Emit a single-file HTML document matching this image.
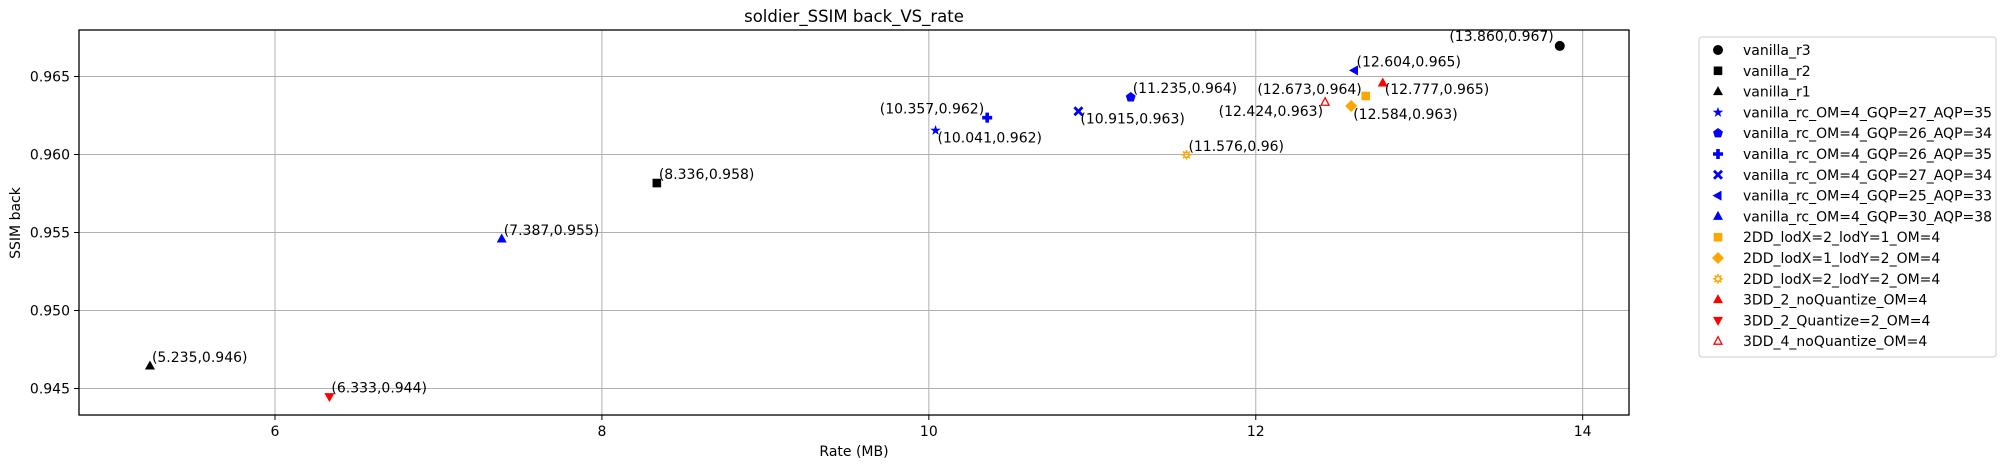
<!DOCTYPE html>
<html><head><meta charset="utf-8"><style>
body{margin:0;background:#fff;}
svg{display:block;font-family:"DejaVu Sans","Liberation Sans",sans-serif;}
</style></head><body>
<svg id="chart" width="2006" height="468" viewBox="0 0 2006 468" xmlns="http://www.w3.org/2000/svg">
<text x="854" y="22" font-size="16.5" text-anchor="middle" fill="#000">soldier_SSIM back_VS_rate</text>
<g id="grid"></g>
<g id="xaxis"></g>
<g id="yaxis"></g>
<g id="marks"></g>
<g id="labels"></g>
<rect x="79" y="30" width="1550" height="385" fill="none" stroke="#000" stroke-width="1.3"/>
<text x="854" y="456" font-size="14" text-anchor="middle">Rate (MB)</text>
<text x="0" y="0" font-size="14" text-anchor="middle" transform="translate(20,223) rotate(-90)">SSIM back</text>
<g id="legend">
<rect x="1699" y="37" width="297" height="320" rx="3" fill="#fff" stroke="#ccc" stroke-width="1"/>
</g>
</svg>
<script>
const seriesNames = ["vanilla_r3","vanilla_r2","vanilla_r1","vanilla_rc_OM=4_GQP=27_AQP=35","vanilla_rc_OM=4_GQP=26_AQP=34","vanilla_rc_OM=4_GQP=26_AQP=35","vanilla_rc_OM=4_GQP=27_AQP=34","vanilla_rc_OM=4_GQP=25_AQP=33","vanilla_rc_OM=4_GQP=30_AQP=38","2DD_lodX=2_lodY=1_OM=4","2DD_lodX=1_lodY=2_OM=4","2DD_lodX=2_lodY=2_OM=4","3DD_2_noQuantize_OM=4","3DD_2_Quantize=2_OM=4","3DD_4_noQuantize_OM=4"];
const rateValues = [13.860,8.336,5.235,10.041,11.235,10.357,10.915,12.604,7.387,12.673,12.584,11.576,12.777,6.333,12.424];
const ssimValues = [0.96696,0.95817,0.94644,0.96154,0.96367,0.96236,0.96277,0.96539,0.95458,0.96375,0.96311,0.95998,0.96458,0.94448,0.96335];
const xTicks = [6,8,10,12,14];
const yTicks = [0.945,0.950,0.955,0.960,0.965];
const yTickLabels = ["0.945","0.950","0.955","0.960","0.965"];

const markerShapes = ["circle","square","tri","star","pent","plus","x","left","tri","square","diamond","sun","tri","down","trihollow"];
const markerColors = ["#000","#000","#000","blue","blue","blue","blue","blue","blue","orange","orange","orange","red","red","red"];
// label placement style: [dx, dy, anchor]
const labelStyle = {0:[-6,-5,"end"],3:[2,12,"start"],5:[-3,-4,"end"],6:[2,12,"start"],9:[-4,-2,"end"],10:[2,13,"start"],12:[2,11,"start"],14:[-2,14,"end"]};

const X0=79,X1=1629,Y0=30,Y1=415;
function xs(v){return 275+(v-6)*163.46;}
function ys(v){return 388.5-(v-0.945)*15600;}
const NS="http://www.w3.org/2000/svg";
function mk(tag,attrs,parent){const e=document.createElementNS(NS,tag);for(const k in attrs)e.setAttribute(k,attrs[k]);parent.appendChild(e);return e;}

const grid=document.getElementById('grid'),xa=document.getElementById('xaxis'),ya=document.getElementById('yaxis');
xTicks.forEach(t=>{const x=xs(t);
 const g=mk('line',{x1:x,x2:x,y1:Y0,y2:Y1,stroke:'#b0b0b0','stroke-width':1},grid);
 
 
 const tk=mk('line',{x1:x,x2:x,y1:Y1,y2:Y1+5,stroke:'#000','stroke-width':1},xa);
 
 
 const tx=mk('text',{x:x,y:436,'font-size':14,'text-anchor':'middle'},xa);tx.textContent=t;
 
 
});
yTicks.forEach((t,i)=>{const y=ys(t);
 const g=mk('line',{x1:X0,x2:X1,y1:y,y2:y,stroke:'#b0b0b0','stroke-width':1},grid);
 
 
 const tk=mk('line',{x1:X0-5,x2:X0,y1:y,y2:y,stroke:'#000','stroke-width':1},ya);
 
 
 const tx=mk('text',{x:X0-9,y:y+5,'font-size':14,'text-anchor':'end'},ya);tx.textContent=yTickLabels[i];
 
 
});

function drawMarker(shape,color,cx,cy,parent,s){
 s=s||1;const r=5*s;let el;
 const poly=pts=>mk('polygon',{points:pts.map(p=>(cx+p[0]*s)+','+(cy+p[1]*s)).join(' '),fill:color},parent);
 switch(shape){
  case "circle":el=mk('circle',{cx:cx,cy:cy,r:r,fill:color},parent);break;
  case "square":el=mk('rect',{x:cx-4.3*s,y:cy-4.3*s,width:8.6*s,height:8.6*s,fill:color},parent);break;
  case "tri":el=poly([[0,-5.5],[5,3.5],[-5,3.5]]);break;
  case "down":el=poly([[0,5.5],[5,-3.5],[-5,-3.5]]);break;
  case "left":el=poly([[-5.5,0],[3.5,-5],[3.5,5]]);break;
  case "trihollow":el=poly([[0,-4.5],[4,3],[-4,3]]);el.setAttribute('fill','none');el.setAttribute('stroke',color);el.setAttribute('stroke-width',1.3);break;
  case "diamond":el=poly([[0,-6],[6,0],[0,6],[-6,0]]);break;
  case "star":{const p=[];for(let i=0;i<10;i++){const a=-Math.PI/2+i*Math.PI/5,rr=i%2?2.2:5.5;p.push([rr*Math.cos(a),rr*Math.sin(a)]);}el=poly(p);break;}
  case "pent":{const p=[];for(let i=0;i<5;i++){const a=-Math.PI/2+i*2*Math.PI/5;p.push([5.2*Math.cos(a),5.2*Math.sin(a)]);}el=poly(p);break;}
  case "plus":el=poly([[-1.8,-5],[1.8,-5],[1.8,-1.8],[5,-1.8],[5,1.8],[1.8,1.8],[1.8,5],[-1.8,5],[-1.8,1.8],[-5,1.8],[-5,-1.8],[-1.8,-1.8]]);break;
  case "x":el=poly([[-5,-3],[-3,-5],[0,-2],[3,-5],[5,-3],[2,0],[5,3],[3,5],[0,2],[-3,5],[-5,3],[-2,0]]);break;
  case "sun":{const g=mk('g',{},parent);
   mk('circle',{cx:cx,cy:cy,r:2.5*s,fill:'none',stroke:color,'stroke-width':1.6},g);
   for(let i=0;i<8;i++){const a=i*Math.PI/4;mk('line',{x1:cx+3*s*Math.cos(a),y1:cy+3*s*Math.sin(a),x2:cx+4.8*s*Math.cos(a),y2:cy+4.8*s*Math.sin(a),stroke:color,'stroke-width':1.6},g);}
   el=g;break;}
 }
 return el;
}

const marks=document.getElementById('marks'),labels=document.getElementById('labels'),legend=document.getElementById('legend');
rateValues.forEach((r,i)=>{
 const cx=xs(r),cy=ys(ssimValues[i]);
 const m=drawMarker(markerShapes[i],markerColors[i],cx,cy,marks);
 
 
 const st=labelStyle[i]||[2,-4,"start"];
 const t=mk('text',{x:cx+st[0],y:cy+st[1],'font-size':14,'text-anchor':st[2]},labels);
 t.textContent='('+r.toFixed(3)+','+(+ssimValues[i].toFixed(3))+')';
 
 
});
seriesNames.forEach((n,i)=>{
 const y=50+i*20.8;
 const g=mk('g',{},legend);
 
 
 drawMarker(markerShapes[i],markerColors[i],1718,y,g);
 const t=mk('text',{x:1743,y:y+5,'font-size':14},g);t.textContent=n;
 
 
});
</script>
</body></html>
